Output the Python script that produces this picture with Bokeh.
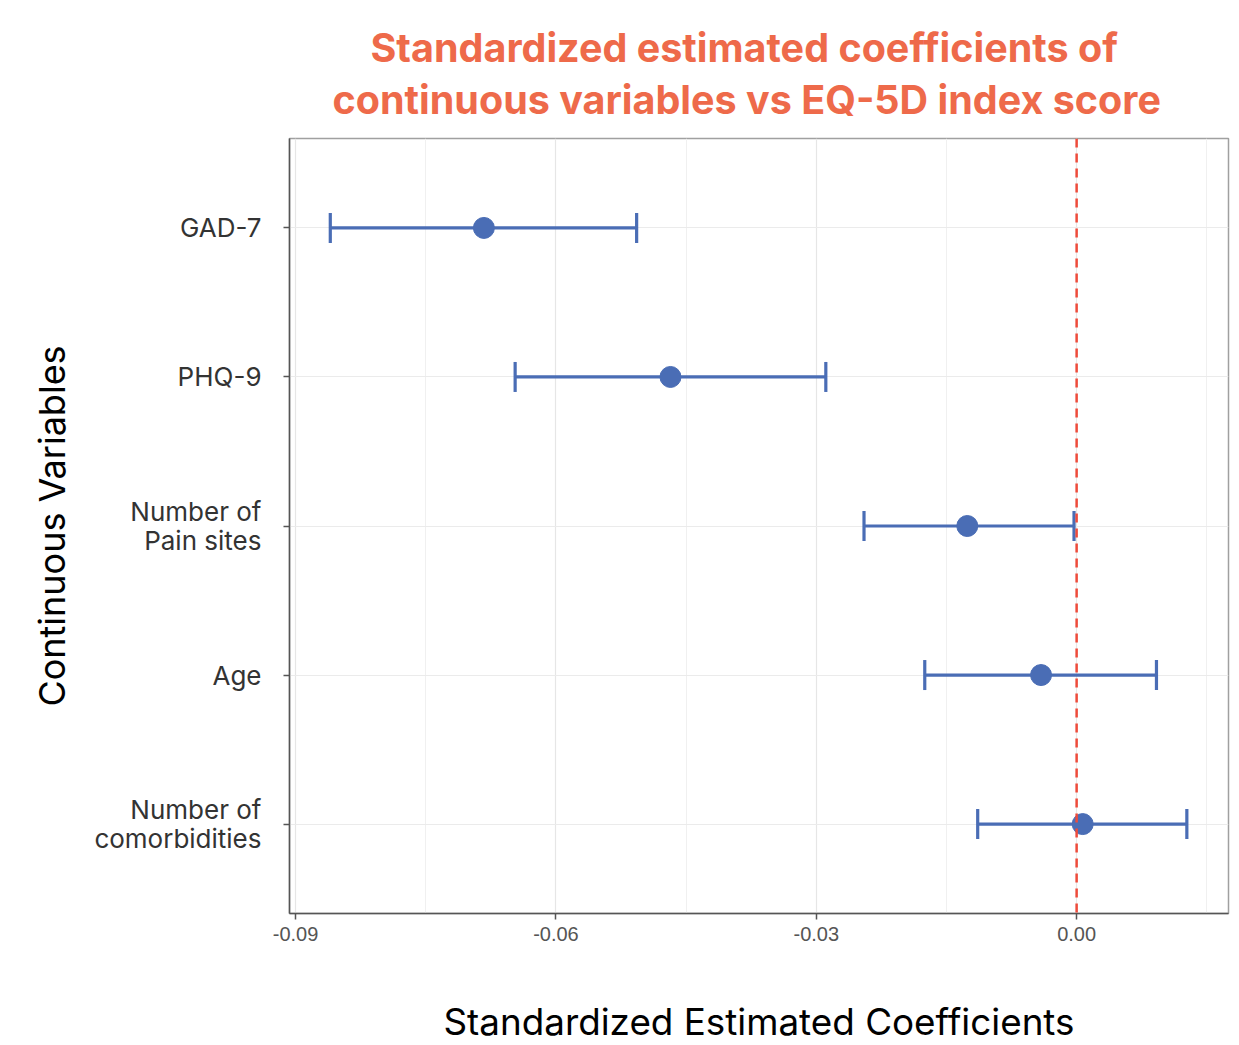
from bokeh.plotting import figure
from bokeh.models import (ColumnDataSource, Whisker, TeeHead, Span, FixedTicker,
                          NumeralTickFormatter, Range1d, Title)
from bokeh.embed import file_html
from bokeh.resources import INLINE

# ---- data ----
variables = ["GAD-7", "PHQ-9", "Number of\nPain sites", "Age", "Number of\ncomorbidities"]
estimates = [-0.0683, -0.0468, -0.0126, -0.0041, 0.0007]
lower = [-0.0860, -0.0647, -0.0245, -0.0175, -0.0114]
upper = [-0.0507, -0.0289, -0.0003, 0.0092, 0.0127]
x_ticks = [-0.09, -0.06, -0.03, 0.00]
x_minor = [-0.075, -0.045, -0.015, 0.015]

n = len(variables)
ypos = [n - i for i in range(n)]  # GAD-7 at top

src = ColumnDataSource(dict(y=ypos, est=estimates, lo=lower, hi=upper))

BLUE = "#4A6DB5"
RED = "#EE4B3B"
ORANGE = "#EE6A4A"
FONT = "Inter"

p = figure(frame_width=939, frame_height=775,
           x_range=Range1d(-0.0907, 0.0175), y_range=Range1d(0.4, 5.6),
           output_backend="svg", toolbar_location=None,
           min_border_left=289, min_border_right=10, min_border_top=138,
           min_border_bottom=126)

p.background_fill_color = "white"
p.outline_line_color = "#a0a0a0"
p.outline_line_width = 1.5

# grid
p.xgrid.ticker = FixedTicker(ticks=x_ticks, minor_ticks=x_minor)
p.xgrid.grid_line_color = "#e6e6e6"
p.xgrid.grid_line_width = 1.2
p.xgrid.minor_grid_line_color = "#f0f0f0"
p.xgrid.minor_grid_line_width = 1.0
p.ygrid.ticker = FixedTicker(ticks=ypos)
p.ygrid.grid_line_color = "#ebebeb"
p.ygrid.grid_line_width = 1.2

# x axis
p.xaxis.ticker = FixedTicker(ticks=x_ticks, minor_ticks=x_minor)
p.xaxis.formatter = NumeralTickFormatter(format="0.00")
p.xaxis.major_label_text_font = "Liberation Sans"
p.xaxis.major_label_text_font_size = "20px"
p.xaxis.major_label_text_color = "#555555"
p.xaxis.major_label_standoff = 7
p.xaxis.axis_line_color = "#555555"
p.xaxis.axis_line_width = 1.5
p.xaxis.major_tick_line_color = "#555555"
p.xaxis.major_tick_line_width = 1.5
p.xaxis.major_tick_out = 6
p.xaxis.major_tick_in = 0
p.xaxis.minor_tick_out = 0
p.xaxis.minor_tick_in = 0
p.xaxis.axis_label = "Standardized Estimated Coefficients"
p.xaxis.axis_label_text_font = FONT
p.xaxis.axis_label_text_font_style = "normal"
p.xaxis.axis_label_text_font_size = "36.8px"
p.xaxis.axis_label_text_color = "black"
p.xaxis.axis_label_standoff = 55

# y axis
p.yaxis.ticker = FixedTicker(ticks=ypos)
p.yaxis.major_label_overrides = {y: v for y, v in zip(ypos, variables)}
p.yaxis.major_label_text_font = FONT
p.yaxis.major_label_text_font_size = "26px"
p.yaxis.major_label_text_line_height = 0.92
p.yaxis.major_label_text_color = "#333333"
p.yaxis.major_label_standoff = 22
p.yaxis.axis_line_color = "#555555"
p.yaxis.axis_line_width = 1.5
p.yaxis.major_tick_line_color = "#555555"
p.yaxis.major_tick_line_width = 1.5
p.yaxis.major_tick_out = 6
p.yaxis.major_tick_in = 0
p.yaxis.minor_tick_out = 0
p.yaxis.minor_tick_in = 0
p.yaxis.axis_label = "Continuous Variables"
p.yaxis.axis_label_text_font = FONT
p.yaxis.axis_label_text_font_style = "normal"
p.yaxis.axis_label_text_font_size = "36px"
p.yaxis.axis_label_text_color = "black"
p.yaxis.axis_label_standoff = 17

# reference line at zero
p.add_layout(Span(location=0, dimension="height", line_color=RED,
                  line_width=2.5, line_dash="9 6"))

# error bars
w = Whisker(source=src, base="y", lower="lo", upper="hi", dimension="width",
            line_color=BLUE, line_width=3.2,
            lower_head=TeeHead(size=30, line_color=BLUE, line_width=3.2),
            upper_head=TeeHead(size=30, line_color=BLUE, line_width=3.2))
p.add_layout(w)

p.scatter(x="est", y="y", source=src, size=21, color=BLUE, line_color=BLUE)

# title: a thin spacer next to the frame, then the two title lines
spacer = Title(text=" ", text_font_size="2px", standoff=9)
t2 = Title(text="continuous variables vs EQ-5D index score", align="left",
           text_font=FONT, text_font_size="39.5px", text_font_style="bold",
           text_color=ORANGE, offset=43, standoff=4)
t1 = Title(text="Standardized estimated coefficients of", align="left",
           text_font=FONT, text_font_size="39.5px", text_font_style="bold",
           text_color=ORANGE, offset=81, standoff=0)
p.add_layout(spacer, "above")
p.add_layout(t2, "above")
p.add_layout(t1, "above")

open("out.html", "w").write(file_html(p, INLINE))
